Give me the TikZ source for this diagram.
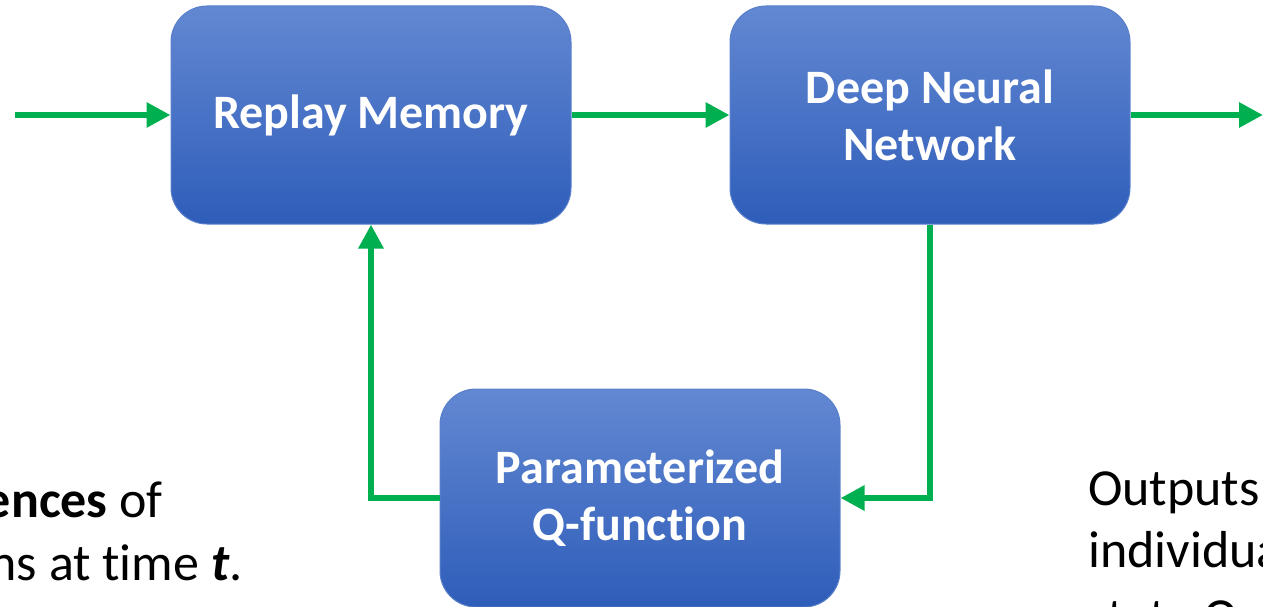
\documentclass[tikz,border=0pt]{standalone}
\usepackage{fontspec}
\setmainfont[RawFeature=-liga]{Carlito}
\usetikzlibrary{arrows.meta}
\definecolor{flow}{HTML}{00B050}
\definecolor{boxtop}{HTML}{6388D2}
\definecolor{boxbot}{HTML}{2E5DB9}
\definecolor{boxedge}{HTML}{5A80CC}
\tikzset{
  block/.style={rounded corners=36pt, top color=boxtop, bottom color=boxbot,
    draw=boxedge, line width=1pt, minimum width=400pt, minimum height=218pt,
    text=white, align=center, inner sep=0pt,
    font=\fontsize{48}{57}\selectfont\bfseries},
  link/.style={draw=flow, line width=6.5pt,
    -{Triangle[length=24pt,width=24pt]}, shorten >=0pt},
  note/.style={inner sep=0pt, font=\fontsize{52}{62}\selectfont}
}
\begin{document}
\begin{tikzpicture}[x=1pt,y=-1pt]
\useasboundingbox (0,0) rectangle (1263,607);
\clip (0,0) rectangle (1263,607);

% processing blocks
\node[block] (rm)  at (371,115) {Replay Memory};
\node[block] (dnn) at (930,115) {Deep Neural\\Network};
\node[block] (qf)  at (640,498) {Parameterized\\Q-function};

% free ends of the main line
\coordinate (in)  at (15,115);
\coordinate (out) at (1263,115);

% connectors
\draw[link] (in) -- (rm.west);
\draw[link] (rm.east) -- (dnn.west);
\draw[link] (dnn.east) -- (out);
\draw[link] (dnn.south) |- (qf.east);
\draw[link] (qf.west) -| (rm.south);

% side notes
\node[note, anchor=base east] (lnoteA) at (163,517) {\textbf{ences} of};
\node[note, anchor=base east] (lnoteB) at (243,580) {ns at time \textbf{\textit{t}}.};
\node[note, anchor=base west] (rnoteA) at (1088,505) {Outputs};
\node[note, anchor=base west] (rnoteB) at (1088,567) {individual};
\node[note, anchor=base west] (rnoteC) at (1088,634) {state Q-values};
\end{tikzpicture}
\end{document}
